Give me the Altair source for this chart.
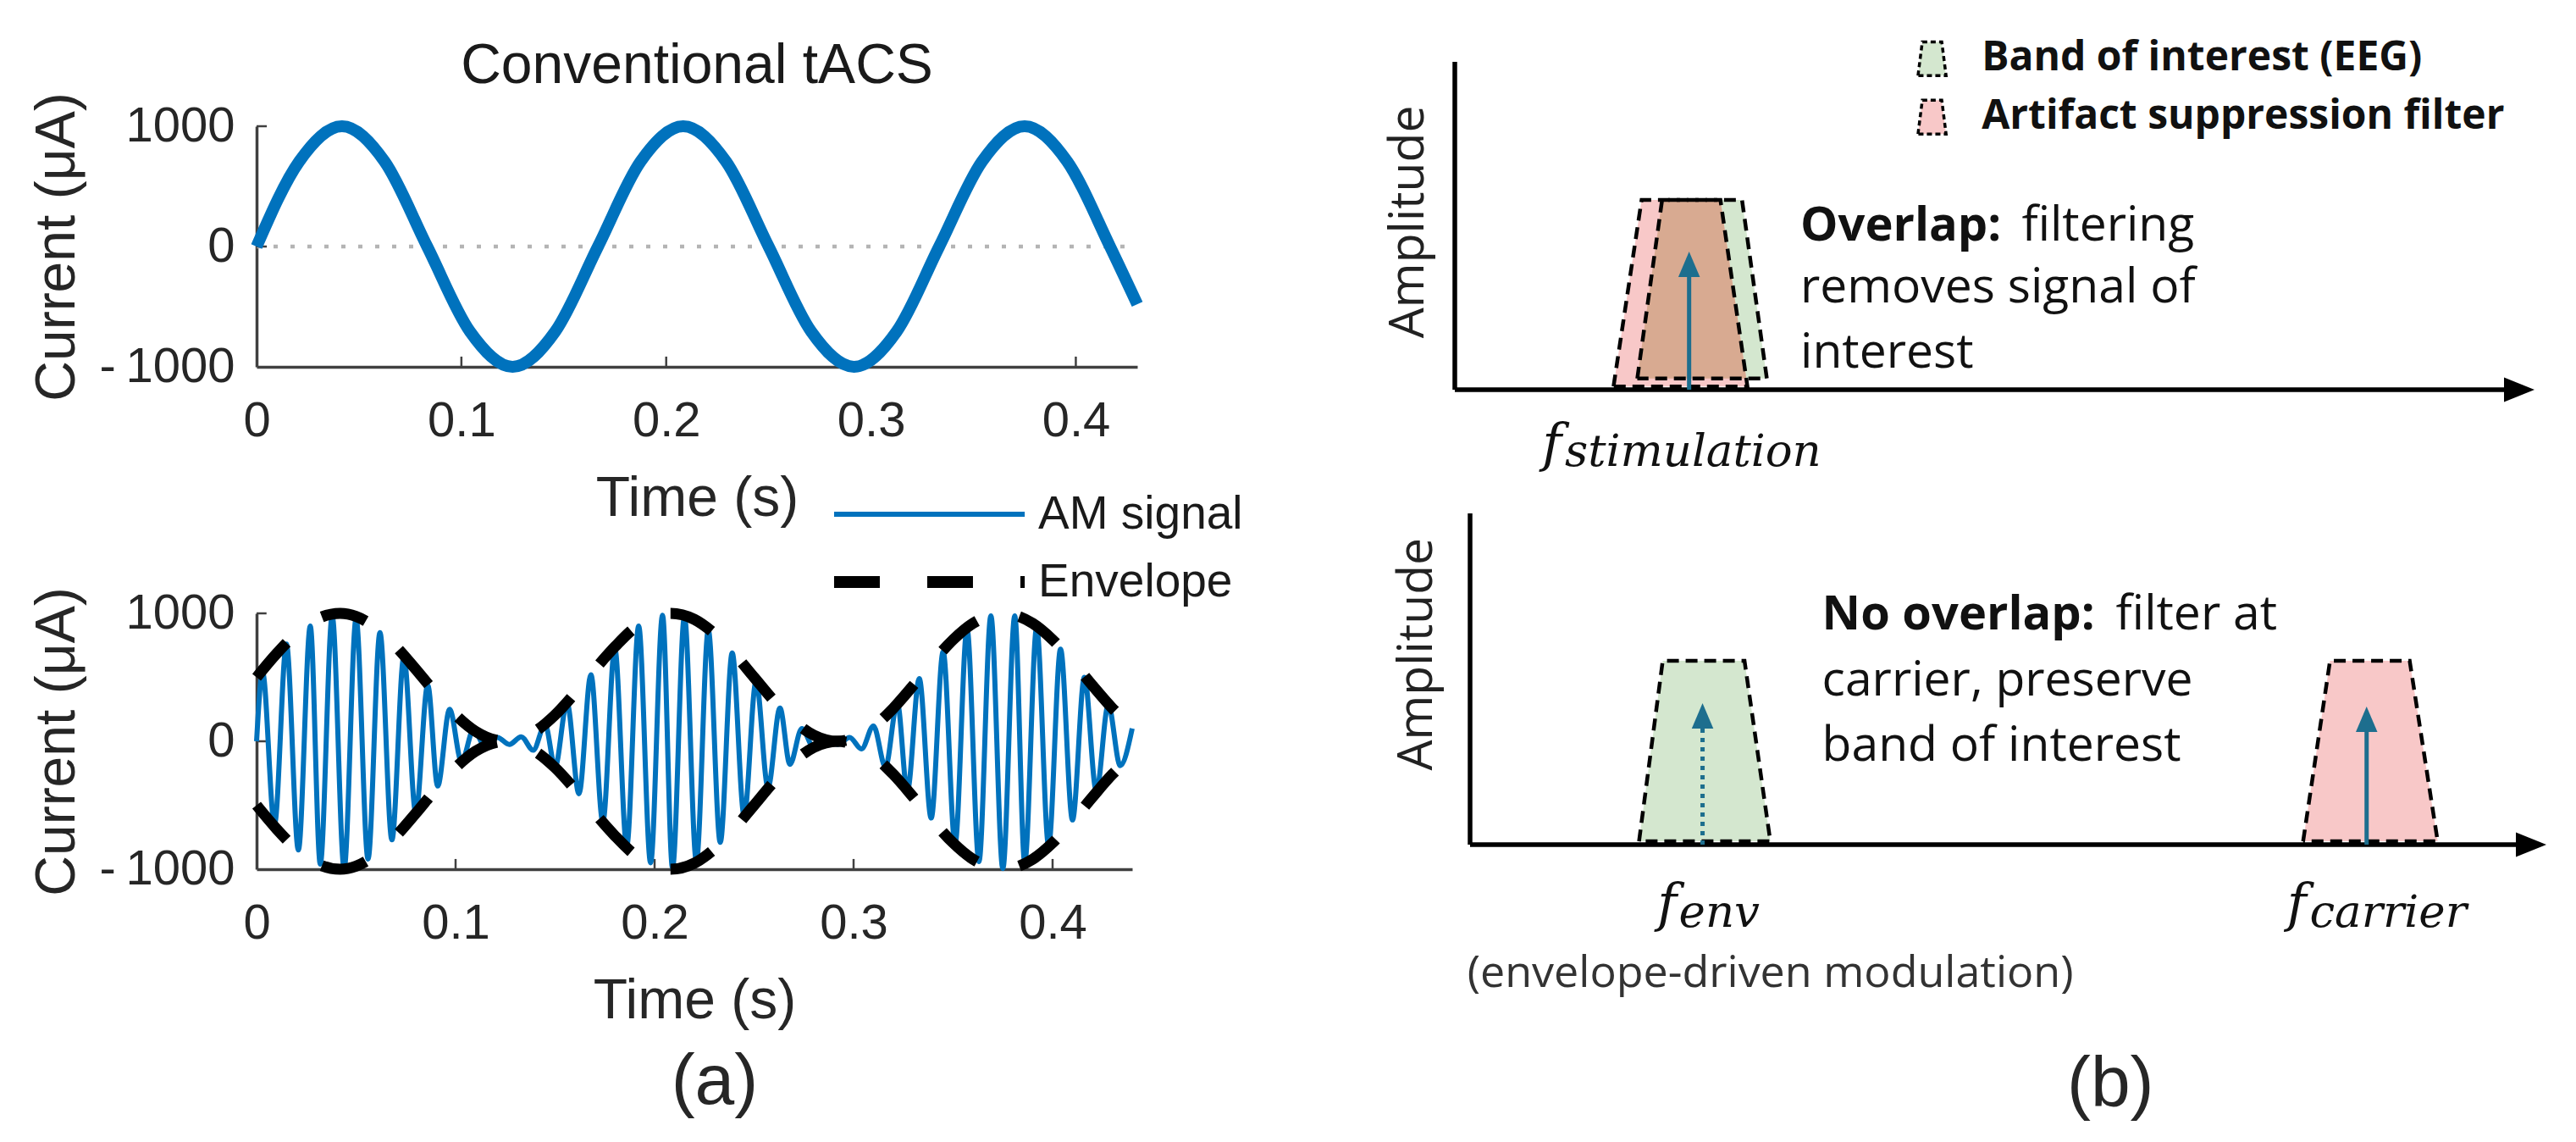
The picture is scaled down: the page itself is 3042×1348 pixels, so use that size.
import altair as alt
import pandas as pd

W, H = 3026, 1332

# ---------------- panel (a) data ----------------
# conventional tACS sine (time s, current uA), read at 1/48 s steps
sine_t = [0, 0.0208, 0.0417, 0.0625, 0.0833, 0.1042, 0.125, 0.1458, 0.1667, 0.1875,
          0.2083, 0.2292, 0.25, 0.2708, 0.2917, 0.3125, 0.3333, 0.3542, 0.375, 0.3958,
          0.4167, 0.43]
sine_v = [0, 707, 1000, 707, 0, -707, -1000, -707, 0, 707,
          1000, 707, 0, -707, -1000, -707, 0, 707, 1000, 707,
          0, -480]
zero_t = [0, 0.43]
zero_v = [0, 0]

# AM signal: turning points of the carrier (time s, current uA)
am_t = [0, 0.003, 0.009, 0.015, 0.021, 0.027, 0.032, 0.038, 0.044, 0.050,
        0.056, 0.062, 0.068, 0.074, 0.080, 0.086, 0.091, 0.097, 0.103, 0.109,
        0.115, 0.121, 0.127, 0.133, 0.139, 0.145, 0.150, 0.156, 0.162, 0.168,
        0.174, 0.180, 0.186, 0.192, 0.198, 0.204, 0.209, 0.215, 0.221, 0.227,
        0.233, 0.239, 0.245, 0.251, 0.257, 0.263, 0.268, 0.274, 0.280, 0.286,
        0.292, 0.298, 0.304, 0.310, 0.316, 0.322, 0.327, 0.333, 0.339, 0.345,
        0.351, 0.357, 0.363, 0.369, 0.375, 0.381, 0.386, 0.392, 0.398, 0.404,
        0.410, 0.416, 0.422, 0.428, 0.434, 0.440]
am_v = [0, 540, -650, 760, -850, 900, -960, 980, -995, 960,
        -920, 850, -770, 660, -560, 440, -350, 250, -160, 90,
        -45, 30, -25, 35, -70, 130, -200, 300, -410, 520,
        -630, 730, -820, 900, -950, 985, -990, 975, -940, 870,
        -790, 690, -580, 470, -360, 260, -180, 100, -50, 30,
        -25, 30, -60, 120, -200, 300, -390, 490, -600, 700,
        -800, 880, -940, 980, -995, 980, -950, 890, -815, 720,
        -615, 500, -390, 285, -190, 100]

# envelope (time s, current uA)
env_t = [0, 0.01, 0.02, 0.03, 0.042, 0.05, 0.06, 0.07, 0.08, 0.09,
         0.10, 0.11, 0.125, 0.14, 0.15, 0.16, 0.17, 0.18, 0.19, 0.20,
         0.208, 0.22, 0.23, 0.24, 0.25, 0.26, 0.27, 0.28, 0.292, 0.30,
         0.31, 0.32, 0.33, 0.34, 0.35, 0.36, 0.375, 0.39, 0.40, 0.41,
         0.42, 0.43, 0.44]
env_v = [500, 684, 842, 953, 1000, 976, 886, 741, 563, 376,
         206, 78, 0, 78, 206, 376, 563, 738, 887, 976,
         1000, 953, 842, 684, 500, 316, 158, 48, 0, 24,
         114, 259, 437, 624, 794, 922, 1000, 922, 794, 624,
         437, 259, 114]

x_ticks = [0, 0.1, 0.2, 0.3, 0.4]
y_ticks = [-1000, 0, 1000]

# ---------------- panel (b) data (frequency 0-100, amplitude 0-100) ----------------
top_red_f = [14.7, 17.3, 24.6, 27.1]
top_red_a = [1.0, 57.9, 57.9, 1.0]
top_green_f = [16.9, 19.2, 26.6, 28.9]
top_green_a = [3.4, 57.9, 57.9, 3.4]
top_overlap_f = [16.9, 19.2, 24.6, 27.0]
top_overlap_a = [3.4, 57.9, 57.9, 3.4]
bot_green_f = [15.7, 17.9, 25.5, 27.9]
bot_green_a = [1.0, 55.5, 55.5, 1.0]
bot_red_f = [77.4, 79.9, 87.3, 89.9]
bot_red_a = [1.0, 55.5, 55.5, 1.0]
icon_f = [42.9, 43.3, 45.1, 45.5]
icon_green_a = [95.8, 106.1, 106.1, 95.8]
icon_red_a = [78.0, 88.3, 88.3, 78.0]

top_arrow_f = [21.7]
top_arrow_a = [42.1]
env_arrow_f = [21.6]
env_arrow_a = [42.7]
car_arrow_f = [83.3]
car_arrow_a = [41.7]

# ---------------- styles ----------------
BLUE = "#0072BD"
TEAL = "#1D6E8E"
INK = "#262626"
AXC = "#404040"
PINK = "#F8C8C8"
GREEN = "#D4E7CF"
BROWN = "#D8AA91"
ONE = pd.DataFrame({"k": [0]})


def sc(d, r):
    return alt.Scale(domain=d, range=r, nice=False, zero=False)


TL_X = sc([0, 0.43], [295, 1335]); TL_Y = sc([-1000, 1000], [425, 141])
BL_X = sc([0, 0.44], [295, 1329]); BL_Y = sc([-1000, 1000], [1018, 716])
TR_X = sc([0, 100], [1710, 2985]); TR_Y = sc([0, 100], [452, 65])
BR_X = sc([0, 100], [1728, 2999]); BR_Y = sc([0, 100], [989, 598])


def x_axis(axis_y):
    return alt.Axis(orient="bottom", offset=axis_y - H, values=x_ticks,
                    labelExpr="datum.value == 0 ? '0' : format(datum.value, '.1f')",
                    title="Time (s)", grid=False, ticks=False, labelPadding=35,
                    titlePadding=30, domainColor=AXC, domainWidth=3.5,
                    labelFont="Liberation Sans", labelFontSize=58, labelColor=INK,
                    titleFont="Liberation Sans", titleFontSize=66, titleFontWeight="normal",
                    titleColor=INK, labelFlush=False, labelOverlap=False)


def y_axis():
    return alt.Axis(orient="left", offset=-295, values=y_ticks,
                    labelExpr="datum.value < 0 ? '-\u2009' + format(-datum.value, 'd') : format(datum.value, 'd')",
                    title="Current (μA)", grid=False, ticks=False, labelPadding=26,
                    titlePadding=16, domainColor=AXC, domainWidth=3.5,
                    labelFont="Liberation Sans", labelFontSize=58, labelColor=INK,
                    titleFont="Liberation Sans", titleFontSize=66, titleFontWeight="normal",
                    titleColor=INK, labelFlush=False, labelOverlap=False)


def inner_ticks(sx, sy, tick_len_t, tick_len_v):
    """Small inward MATLAB-style ticks, drawn from the tick value arrays."""
    xt = alt.Chart(pd.DataFrame({"t": x_ticks})).transform_filter("datum.t > 0").transform_calculate(
        y0="-1000", y1=f"-1000 + {tick_len_v}").mark_rule(color=AXC, strokeWidth=2.5).encode(
        x=alt.X("t:Q", scale=sx, axis=None), y=alt.Y("y0:Q", scale=sy, axis=None), y2="y1:Q")
    yt = alt.Chart(pd.DataFrame({"v": y_ticks})).transform_filter("datum.v > -1000").transform_calculate(
        x0="0", x1=f"{tick_len_t}").mark_rule(color=AXC, strokeWidth=2.5).encode(
        x=alt.X("x0:Q", scale=sx, axis=None), x2="x1:Q", y=alt.Y("v:Q", scale=sy, axis=None))
    return [xt, yt]


def text(t, x, y, sx, sy, **kw):
    return alt.Chart(ONE).mark_text(text=t, **kw).encode(
        x=alt.XDatum(x, scale=sx, axis=None),
        y=alt.YDatum(y, scale=sy, axis=None))


def seg(x, x2, y, y2, sx, sy, **kw):
    return alt.Chart(ONE).mark_rule(**kw).encode(
        x=alt.XDatum(x, scale=sx, axis=None), x2=alt.X2Datum(x2),
        y=alt.YDatum(y, scale=sy, axis=None), y2=alt.Y2Datum(y2))


def trap_area(fs, amps, fill, sx, sy):
    df = pd.DataFrame({"f": fs, "a": amps, "base": [amps[0]] * len(fs)})
    return alt.Chart(df).mark_area(color=fill, opacity=1).encode(
        x=alt.X("f:Q", scale=sx, axis=None),
        y=alt.Y("a:Q", scale=sy, axis=None), y2="base:Q")


def trap_outline(fs, amps, sx, sy, dash=(14, 8), sw=4.5):
    df = pd.DataFrame({"i": list(range(len(fs) + 1)), "f": fs + fs[:1], "a": amps + amps[:1]})
    return alt.Chart(df).mark_line(color="black", strokeDash=list(dash), strokeWidth=sw).encode(
        x=alt.X("f:Q", scale=sx, axis=None),
        y=alt.Y("a:Q", scale=sy, axis=None), order="i:Q")


def arrow(fs, amps, sx, sy, units_per_px, dotted=False):
    df = pd.DataFrame({"f": fs, "a": amps})
    base = alt.Chart(df).transform_calculate(
        z="0", head=f"datum.a - {15 * units_per_px}", shaft=f"datum.a - {20 * units_per_px}")
    kw = dict(color=TEAL, strokeWidth=5)
    if dotted:
        kw["strokeDash"] = [5, 6]
    shaft = base.mark_rule(**kw).encode(
        x=alt.X("f:Q", scale=sx, axis=None), y=alt.Y("z:Q", scale=sy, axis=None), y2="shaft:Q")
    head = base.mark_point(shape="M0,-1L0.85,1L-0.85,1Z", filled=True, size=900,
                           color=TEAL, opacity=1, strokeWidth=0).encode(
        x=alt.X("f:Q", scale=sx, axis=None), y=alt.Y("head:Q", scale=sy, axis=None))
    return [shaft, head]


def frame(sx, sy, units_per_px_x):
    tip = 100 - 18 * units_per_px_x
    yax = seg(0, 0, 0, 100, sx, sy, color="black", strokeWidth=5.5)
    xax = seg(0, tip, 0, 0, sx, sy, color="black", strokeWidth=5.5)
    head = alt.Chart(ONE).mark_point(shape="M1,0L-1,-0.8L-1,0.8Z", filled=True, size=1296,
                                     color="black", opacity=1, strokeWidth=0).encode(
        x=alt.XDatum(tip, scale=sx, axis=None), y=alt.YDatum(0, scale=sy, axis=None))
    return [yax, xax, head]


# ---------------- panel (a) top ----------------
tl_zero = alt.Chart(pd.DataFrame({"t": zero_t, "v": zero_v})).mark_line(
    color="#b4b4b4", strokeDash=[5, 15], strokeWidth=4.5).encode(
    x=alt.X("t:Q", scale=TL_X, axis=None), y=alt.Y("v:Q", scale=TL_Y, axis=None))
tl_line = alt.Chart(pd.DataFrame({"t": sine_t, "v": sine_v})).mark_line(
    color=BLUE, strokeWidth=14, interpolate="monotone").encode(
    x=alt.X("t:Q", scale=TL_X, axis=x_axis(425)),
    y=alt.Y("v:Q", scale=TL_Y, axis=y_axis()))
tl_title = text("Conventional tACS", 0.215, 1500, TL_X, TL_Y, font="Liberation Sans",
                fontSize=66, color="#1a1a1a", align="center", baseline="middle")
top_left = [tl_zero, *inner_ticks(TL_X, TL_Y, 0.005, 85), tl_line, tl_title]

# ---------------- panel (a) bottom ----------------
env_df = pd.DataFrame({"t": env_t, "e": env_v})
bl_am = alt.Chart(pd.DataFrame({"t": am_t, "v": am_v})).mark_line(
    color=BLUE, strokeWidth=6, interpolate="monotone").encode(
    x=alt.X("t:Q", scale=BL_X, axis=x_axis(1018)),
    y=alt.Y("v:Q", scale=BL_Y, axis=y_axis()))
env_style = dict(color="black", strokeWidth=13, strokeDash=[54, 52], interpolate="monotone")
bl_env_up = alt.Chart(env_df).mark_line(**env_style).encode(
    x=alt.X("t:Q", scale=BL_X, axis=None), y=alt.Y("e:Q", scale=BL_Y, axis=None))
bl_env_dn = alt.Chart(env_df).transform_calculate(ne="-datum.e").mark_line(**env_style).encode(
    x=alt.X("t:Q", scale=BL_X, axis=None), y=alt.Y("ne:Q", scale=BL_Y, axis=None))
leg_am = seg(0.2902, 0.386, 1775, 1775, BL_X, BL_Y, color=BLUE, strokeWidth=6)
leg_env = seg(0.2902, 0.386, 1245, 1245, BL_X, BL_Y, color="black", strokeWidth=14,
              strokeDash=[54, 56])
leg_font = dict(font="Liberation Sans", fontSize=55, color="#1a1a1a", align="left", baseline="middle")
leg_am_t = text("AM signal", 0.3928, 1775, BL_X, BL_Y, **leg_font)
leg_env_t = text("Envelope", 0.3928, 1245, BL_X, BL_Y, **leg_font)
a_lab = text("(a)", 0.2302, -2669, BL_X, BL_Y, font="Liberation Sans", fontSize=84,
             color=INK, align="center", baseline="middle")
bottom_left = [*inner_ticks(BL_X, BL_Y, 0.005, 80), bl_am, bl_env_up, bl_env_dn,
               leg_am, leg_env, leg_am_t, leg_env_t, a_lab]

# ---------------- panel (b) top ----------------
TRU_X = 1 / 12.75
TRU_Y = 1 / 3.87
body = dict(font="Open Sans", fontSize=57, color="#111111", align="left", baseline="middle")
bold = dict(body, fontWeight="bold", fontSize=56)
legb = dict(font="Open Sans", fontSize=48, fontWeight="bold", color="#111111", align="left", baseline="middle")
math_f = dict(font="DejaVu Serif", fontStyle="italic", color="#111111", align="left", baseline="alphabetic")
amp_lab = dict(font="Open Sans", fontSize=57, color="#222222", angle=270, align="center", baseline="middle")

top_right = [
    *frame(TR_X, TR_Y, TRU_X),
    trap_area(top_green_f, top_green_a, GREEN, TR_X, TR_Y),
    trap_area(top_red_f, top_red_a, PINK, TR_X, TR_Y),
    trap_area(top_overlap_f, top_overlap_a, BROWN, TR_X, TR_Y),
    trap_outline(top_red_f, top_red_a, TR_X, TR_Y),
    trap_outline(top_green_f, top_green_a, TR_X, TR_Y),
    *arrow(top_arrow_f, top_arrow_a, TR_X, TR_Y, TRU_Y),
    trap_area(icon_f, icon_green_a, GREEN, TR_X, TR_Y),
    trap_outline(icon_f, icon_green_a, TR_X, TR_Y, dash=(6, 4), sw=3.5),
    trap_area(icon_f, icon_red_a, PINK, TR_X, TR_Y),
    trap_outline(icon_f, icon_red_a, TR_X, TR_Y, dash=(6, 4), sw=3.5),
    text("Band of interest (EEG)", 48.8, 101.0, TR_X, TR_Y, **legb),
    text("Artifact suppression filter", 48.8, 83.2, TR_X, TR_Y, **legb),
    text("Overlap:", 32.0, 49.9, TR_X, TR_Y, **bold),
    text("filtering", 52.5, 49.9, TR_X, TR_Y, **body),
    text("removes signal of", 32.0, 31.0, TR_X, TR_Y, **body),
    text("interest", 32.0, 11.1, TR_X, TR_Y, **body),
    text("Amplitude", -4.2, 51.2, TR_X, TR_Y, **amp_lab),
    text("f", 8.1, -21.7, TR_X, TR_Y, fontSize=62, **math_f),
    text("stimulation", 10.2, -23.3, TR_X, TR_Y, fontSize=53, **math_f),
]

# ---------------- panel (b) bottom ----------------
BRU_X = 1 / 12.71
BRU_Y = 1 / 3.91
bottom_right = [
    *frame(BR_X, BR_Y, BRU_X),
    trap_area(bot_green_f, bot_green_a, GREEN, BR_X, BR_Y),
    trap_outline(bot_green_f, bot_green_a, BR_X, BR_Y),
    trap_area(bot_red_f, bot_red_a, PINK, BR_X, BR_Y),
    trap_outline(bot_red_f, bot_red_a, BR_X, BR_Y),
    *arrow(env_arrow_f, env_arrow_a, BR_X, BR_Y, BRU_Y, dotted=True),
    *arrow(car_arrow_f, car_arrow_a, BR_X, BR_Y, BRU_Y),
    text("No overlap:", 32.7, 69.3, BR_X, BR_Y, **bold),
    text("filter at", 60.0, 69.3, BR_X, BR_Y, **body),
    text("carrier, preserve", 32.7, 49.4, BR_X, BR_Y, **body),
    text("band of interest", 32.7, 29.7, BR_X, BR_Y, **body),
    text("Amplitude", -4.9, 57.5, BR_X, BR_Y, **amp_lab),
    text("f", 17.4, -23.0, BR_X, BR_Y, fontSize=62, **math_f),
    text("env", 19.4, -24.8, BR_X, BR_Y, fontSize=53, **math_f),
    text("f", 75.9, -23.0, BR_X, BR_Y, fontSize=62, **math_f),
    text("carrier", 78.0, -24.8, BR_X, BR_Y, fontSize=53, **math_f),
    text("(envelope-driven modulation)", 27.9, -39.0, BR_X, BR_Y, font="Open Sans", fontSize=52,
         color="#333333", align="center", baseline="middle"),
    text("(b)", 59.5, -72.6, BR_X, BR_Y, font="Liberation Sans", fontSize=84,
         color=INK, align="center", baseline="middle"),
]

chart = alt.layer(*top_left, *bottom_left, *top_right, *bottom_right).resolve_scale(
    x="independent", y="independent"
).properties(
    width=W, height=H, padding=0, autosize=alt.AutoSizeParams(type="none")
).configure_view(stroke=None)

chart.save("out.html", embed_options={"renderer": "svg", "actions": False})
